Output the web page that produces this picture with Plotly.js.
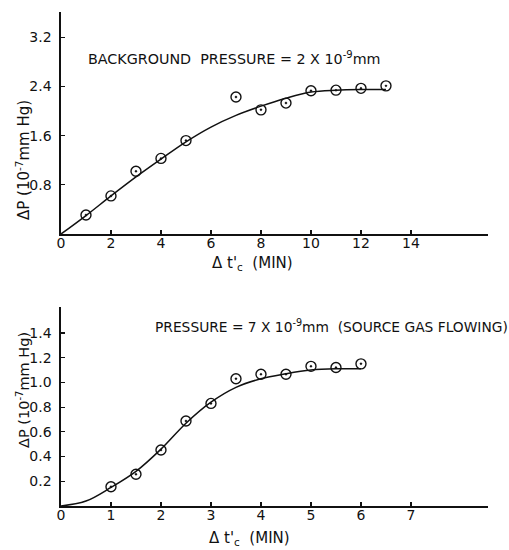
<!DOCTYPE html>
<html>
<head>
<meta charset="utf-8">
<script src="https://cdn.plot.ly/plotly-3.0.1.min.js"></script>
<style>html,body{margin:0;padding:0;background:#fff;}#chart{width:509px;height:550px;}</style>
</head>
<body>
<div id="chart"></div>
<script>
// Top panel: background pressure
const topPointsX = [1, 2, 3, 4, 5, 7, 8, 9, 10, 11, 12, 13];
const topPointsY = [0.31, 0.62, 1.02, 1.23, 1.52, 2.23, 2.02, 2.13, 2.33, 2.34, 2.37, 2.41];
const topCurveX = [0, 1, 2, 3, 4, 5, 6, 7, 8, 9, 10, 11, 12, 13];
const topCurveY = [0, 0.30, 0.62, 0.93, 1.22, 1.50, 1.74, 1.93, 2.08, 2.21, 2.31, 2.34, 2.35, 2.35];
const topXTicks = [0, 2, 4, 6, 8, 10, 12, 14];
const topYTicks = [0.8, 1.6, 2.4, 3.2];

// Bottom panel: source gas flowing
const botPointsX = [1, 1.5, 2, 2.5, 3, 3.5, 4, 4.5, 5, 5.5, 6];
const botPointsY = [0.156, 0.257, 0.453, 0.688, 0.83, 1.03, 1.066, 1.066, 1.13, 1.12, 1.15];
const botCurveX = [0, 0.5, 1, 1.5, 2, 2.5, 3, 3.5, 4, 4.5, 5, 5.5, 6];
const botCurveY = [0, 0.04, 0.15, 0.28, 0.46, 0.67, 0.84, 0.96, 1.03, 1.07, 1.10, 1.11, 1.11];
const botXTicks = [0, 1, 2, 3, 4, 5, 6, 7];
const botYTicks = [0.2, 0.4, 0.6, 0.8, 1.0, 1.2, 1.4];

const FONT = 'DejaVu Sans, sans-serif';
const INK = '#111';
const mk = {symbol: 'circle-open-dot', size: 10, color: INK, line: {width: 1.4, color: INK}};

const traces = [
  {x: topCurveX, y: topCurveY, mode: 'lines', line: {shape: 'spline', color: INK, width: 1.5}, xaxis: 'x', yaxis: 'y', hoverinfo: 'skip'},
  {x: topPointsX, y: topPointsY, mode: 'markers', marker: mk, xaxis: 'x', yaxis: 'y'},
  {x: botCurveX, y: botCurveY, mode: 'lines', line: {shape: 'spline', color: INK, width: 1.5}, xaxis: 'x2', yaxis: 'y2', hoverinfo: 'skip'},
  {x: botPointsX, y: botPointsY, mode: 'markers', marker: mk, xaxis: 'x2', yaxis: 'y2'}
];

const axCommon = {
  showline: true, linecolor: INK, linewidth: 1.6, showgrid: false, zeroline: false,
  ticks: 'inside', ticklen: 4, tickwidth: 1.2, tickcolor: INK,
  tickfont: {family: FONT, size: 14, color: INK}, fixedrange: true
};

const layout = {
  width: 509, height: 550,
  margin: {l: 0, r: 0, t: 0, b: 0},
  paper_bgcolor: '#fff', plot_bgcolor: '#fff',
  showlegend: false,
  font: {family: FONT, color: INK},
  xaxis: Object.assign({}, axCommon, {
    domain: [0.1198, 0.9587], range: [0, 17.08], tickvals: topXTicks,
    ticktext: topXTicks.map(String), anchor: 'y', ticklabelstandoff: -4
  }),
  yaxis: Object.assign({}, axCommon, {
    domain: [0.5745, 0.978], range: [0, 3.61], tickvals: topYTicks,
    ticktext: topYTicks.map(v => v.toFixed(1)), anchor: 'x', ticklabelstandoff: 5
  }),
  xaxis2: Object.assign({}, axCommon, {
    domain: [0.1198, 0.9587], range: [0, 8.54], tickvals: botXTicks,
    ticktext: botXTicks.map(String), anchor: 'y2', ticklabelstandoff: -4
  }),
  yaxis2: Object.assign({}, axCommon, {
    domain: [0.08, 0.4418], range: [0, 1.61], tickvals: botYTicks,
    ticktext: botYTicks.map(v => v.toFixed(1)), anchor: 'x2', ticklabelstandoff: 5
  }),
  annotations: [
    {xref: 'paper', yref: 'paper', x: 86/509, y: 1 - 58/550, xanchor: 'left', yanchor: 'middle', showarrow: false,
     text: 'BACKGROUND  PRESSURE = 2 X 10<sup>-9</sup>mm', font: {family: FONT, size: 14.3, color: INK}},
    {xref: 'paper', yref: 'paper', x: 153/509, y: 1 - 326/550, xanchor: 'left', yanchor: 'middle', showarrow: false,
     text: 'PRESSURE = 7 X 10<sup>-9</sup>mm  (SOURCE GAS FLOWING)', font: {family: FONT, size: 13.8, color: INK}},
    // axis titles
    {xref: 'paper', yref: 'paper', x: 252/509, y: 1 - 263/550, xanchor: 'center', yanchor: 'middle', showarrow: false,
     text: 'Δ t\'<sub>c</sub>  (MIN)', font: {family: FONT, size: 15, color: INK}},
    {xref: 'paper', yref: 'paper', x: 249/509, y: 1 - 538/550, xanchor: 'center', yanchor: 'middle', showarrow: false,
     text: 'Δ t\'<sub>c</sub>  (MIN)', font: {family: FONT, size: 15, color: INK}},
    {xref: 'paper', yref: 'paper', x: 23/509, y: 1 - 160/550, xanchor: 'center', yanchor: 'middle', showarrow: false, textangle: -90,
     text: 'ΔP (10<sup>-7</sup>mm Hg)', font: {family: FONT, size: 15, color: INK}},
    {xref: 'paper', yref: 'paper', x: 23/509, y: 1 - 390/550, xanchor: 'center', yanchor: 'middle', showarrow: false, textangle: -90,
     text: 'ΔP (10<sup>-7</sup>mm Hg)', font: {family: FONT, size: 14.5, color: INK}}
  ]
};

Plotly.newPlot('chart', traces, layout, {displayModeBar: false, staticPlot: true});
</script>
</body>
</html>
